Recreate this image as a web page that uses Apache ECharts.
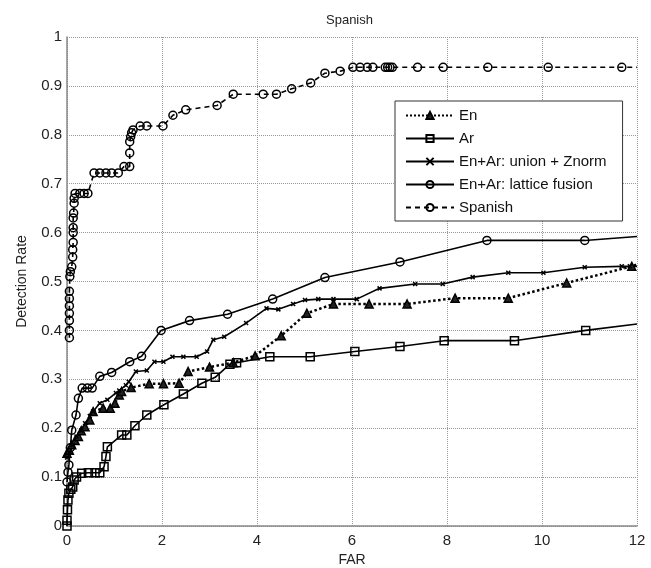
<!DOCTYPE html>
<html>
<head>
<meta charset="utf-8">
<script src="https://cdn.jsdelivr.net/npm/echarts@6/dist/echarts.min.js"></script>
<style>
    html, body { margin: 0; padding: 0; background: #fff; }
    #main { width: 651px; height: 568px; }
</style>
</head>
<body>
<div id="main"></div>
<script>
// [FAR, detection rate]
let seriesNames = ['En', 'Ar', 'En+Ar: union + Znorm', 'En+Ar: lattice fusion', 'Spanish']

let en = [[0, 0.149], [0.05, 0.155], [0.1, 0.166], [0.17, 0.175], [0.24, 0.183], [0.3, 0.195], [0.38, 0.203],
    [0.48, 0.217], [0.55, 0.234], [0.76, 0.241], [0.91, 0.241], [1.01, 0.251], [1.1, 0.268], [1.15, 0.275],
    [1.35, 0.283], [1.73, 0.291], [2.03, 0.291], [2.36, 0.292], [2.55, 0.316], [3.0, 0.325], [3.5, 0.334],
    [3.96, 0.348], [4.51, 0.389], [5.05, 0.435], [5.61, 0.454], [6.36, 0.454], [7.16, 0.454], [8.17, 0.466],
    [9.29, 0.466], [10.52, 0.497], [11.89, 0.531], [12, 0.535]]

let ar = [[0, 0], [0, 0.012], [0.01, 0.033], [0.02, 0.053], [0.04, 0.067], [0.08, 0.075], [0.12, 0.08],
    [0.15, 0.094], [0.2, 0.1], [0.31, 0.108], [0.45, 0.109], [0.59, 0.109], [0.69, 0.109], [0.78, 0.121],
    [0.82, 0.142], [0.85, 0.162], [1.15, 0.186], [1.26, 0.186], [1.43, 0.205], [1.68, 0.227], [2.04, 0.248],
    [2.45, 0.27], [2.84, 0.292], [3.12, 0.304], [3.43, 0.331], [3.57, 0.334], [4.27, 0.346], [5.12, 0.346],
    [6.06, 0.357], [7.01, 0.367], [7.94, 0.379], [9.42, 0.379], [10.92, 0.4], [12, 0.413]]

let union = [[0, 0.14], [0.05, 0.15], [0.12, 0.165], [0.2, 0.183], [0.3, 0.195], [0.38, 0.21], [0.48, 0.225],
    [0.55, 0.234], [0.69, 0.251], [0.85, 0.258], [1.03, 0.272], [1.1, 0.277], [1.24, 0.288], [1.3, 0.295],
    [1.45, 0.316], [1.68, 0.318], [1.84, 0.336], [2.03, 0.336], [2.22, 0.346], [2.45, 0.346], [2.73, 0.346],
    [2.95, 0.357], [3.08, 0.381], [3.31, 0.387], [3.77, 0.415], [4.2, 0.445], [4.45, 0.443], [4.76, 0.454],
    [5.01, 0.462], [5.29, 0.464], [5.61, 0.464], [6.1, 0.464], [6.58, 0.486], [7.33, 0.495], [7.91, 0.495],
    [8.54, 0.509], [9.29, 0.518], [10.03, 0.518], [10.9, 0.529], [11.68, 0.531], [11.85, 0.531], [12, 0.531]]

let lattice = [[0, 0.09], [0.02, 0.11], [0.04, 0.125], [0.07, 0.16], [0.1, 0.196], [0.19, 0.227], [0.24, 0.261],
    [0.32, 0.282], [0.43, 0.282], [0.53, 0.282], [0.69, 0.306], [0.94, 0.314], [1.32, 0.336], [1.57, 0.347],
    [1.98, 0.4], [2.58, 0.42], [3.38, 0.433], [4.33, 0.464], [5.43, 0.508], [7.01, 0.54], [8.84, 0.584],
    [10.9, 0.584], [12, 0.592]]

let spanish = [[0.05, 0.385], [0.05, 0.4], [0.05, 0.42], [0.05, 0.435], [0.05, 0.45], [0.05, 0.465], [0.05, 0.48],
    [0.06, 0.51], [0.07, 0.52], [0.1, 0.53], [0.12, 0.55], [0.12, 0.565], [0.13, 0.58], [0.13, 0.6], [0.13, 0.61],
    [0.13, 0.63], [0.14, 0.64], [0.15, 0.66], [0.15, 0.67], [0.17, 0.68], [0.27, 0.68], [0.36, 0.68], [0.44, 0.68],
    [0.57, 0.722], [0.69, 0.722], [0.82, 0.722], [0.94, 0.722], [1.08, 0.722], [1.2, 0.735], [1.32, 0.735],
    [1.32, 0.763], [1.32, 0.786], [1.34, 0.796], [1.36, 0.804], [1.39, 0.81], [1.54, 0.818], [1.68, 0.818],
    [2.02, 0.818], [2.23, 0.84], [2.5, 0.851], [3.16, 0.86], [3.5, 0.883], [4.13, 0.883], [4.41, 0.883],
    [4.73, 0.894], [5.13, 0.906], [5.43, 0.926], [5.75, 0.93], [6.02, 0.938], [6.17, 0.938], [6.32, 0.938],
    [6.44, 0.938], [6.7, 0.938], [6.75, 0.938], [6.8, 0.938], [6.85, 0.938], [7.38, 0.938], [7.92, 0.938],
    [8.86, 0.938], [10.13, 0.938], [11.68, 0.938], [12, 0.938]]

let xTicks = [0, 2, 4, 6, 8, 10, 12]

let myChart = echarts.init(document.getElementById('main'))

// the last point of each curve sits on the plot edge and carries no marker
function points(list) {
    return list.map((p, i) => i == list.length - 1 && p[0] >= 12 ? { value: p, symbol: 'none' } : p)
}

let crossPath = 'path://M0,0L10,10M10,0L0,10'

function makeSeries(name, data, symbol, size, lineType, fill) {
    return {
        name: name,
        type: 'line',
        data: points(data),
        symbol: symbol,
        symbolSize: size,
        showAllSymbol: true,
        animation: false,
        lineStyle: { color: '#000', width: lineType == 'dotted' ? 2.5 : 1.6, type: lineType },
        itemStyle: { color: fill, borderColor: '#000', borderWidth: 1.5 }
    }
}

let option = {
    backgroundColor: '#fff',
    textStyle: { fontFamily: 'Liberation Sans, Arial, sans-serif' },
    title: {
        text: 'Spanish',
        left: 321,
        top: 9,
        textStyle: { fontSize: 13, fontWeight: 'normal', color: '#222' }
    },
    legend: {
        orient: 'vertical',
        left: 395,
        top: 101,
        padding: [7, 16, 6, 10],
        itemWidth: 48,
        itemHeight: 9,
        itemGap: 8,
        backgroundColor: '#fff',
        borderColor: '#333',
        borderWidth: 1,
        borderRadius: 0,
        textStyle: { fontSize: 15, color: '#111' },
        data: seriesNames
    },
    grid: { left: 67, top: 37, width: 570, height: 489, outerBoundsMode: 'none' },
    xAxis: {
        type: 'value',
        min: xTicks[0],
        max: xTicks[xTicks.length - 1],
        interval: 2,
        name: 'FAR',
        nameLocation: 'middle',
        nameGap: 23,
        nameTextStyle: { fontSize: 14, color: '#222' },
        axisLine: { lineStyle: { color: '#888', width: 1.5 } },
        axisTick: { show: false },
        axisLabel: { fontSize: 15, color: '#222', margin: 7 },
        splitLine: { lineStyle: { color: '#999', type: 'dotted', width: 1 } }
    },
    yAxis: {
        type: 'value',
        min: 0,
        max: 1,
        interval: 0.1,
        name: 'Detection Rate',
        nameLocation: 'middle',
        nameGap: 38,
        nameTextStyle: { fontSize: 14, color: '#222' },
        axisLine: { show: true, lineStyle: { color: '#888', width: 1.5 } },
        axisTick: { show: false },
        axisLabel: { fontSize: 15, color: '#222', margin: 5 },
        splitLine: { lineStyle: { color: '#999', type: 'dotted', width: 1 } }
    },
    series: [
        makeSeries(seriesNames[0], en, 'triangle', 8, 'dotted', '#222'),
        makeSeries(seriesNames[1], ar, 'rect', 8, 'solid', 'transparent'),
        makeSeries(seriesNames[2], union, crossPath, 4, 'solid', 'transparent'),
        makeSeries(seriesNames[3], lattice, 'circle', 8, 'solid', 'transparent'),
        makeSeries(seriesNames[4], spanish, 'circle', 8, [5, 4], 'transparent')
    ]
}

myChart.setOption(option)
</script>
</body>
</html>
